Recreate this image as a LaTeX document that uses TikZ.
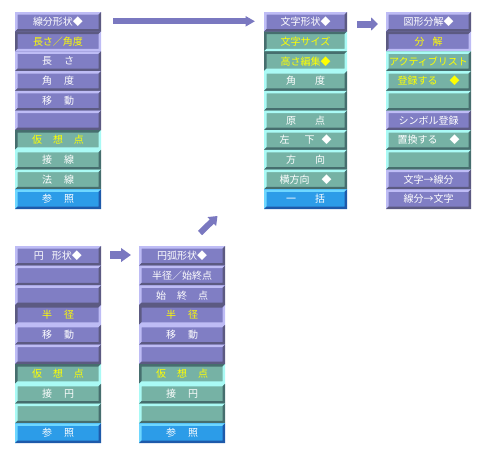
\documentclass[tikz,border=0pt]{standalone}
\usepackage{fontspec}
\newfontfamily\jp{Noto Sans CJK JP}
\usetikzlibrary{arrows.meta}
\definecolor{Pfill}{RGB}{128,126,196}
\definecolor{Plight}{RGB}{190,188,245}
\definecolor{Pdark}{RGB}{92,90,130}
\definecolor{Tfill}{RGB}{118,178,165}
\definecolor{Tlight}{RGB}{170,250,245}
\definecolor{Tdark}{RGB}{70,110,110}
\definecolor{Bfill}{RGB}{44,156,232}
\definecolor{Blight}{RGB}{110,215,255}
\definecolor{Bdark}{RGB}{30,90,170}
\definecolor{arrowc}{RGB}{122,120,192}
\definecolor{ytext}{RGB}{255,255,0}
\newcommand{\panelset}[4]{\def\pxa{#1}\def\pxb{#2}\def\pya{#3}\def\rh{#4}}
\newcommand{\btn}[6]{%
 \pgfmathsetmacro\ya{\pya+(#2-1)*\rh}%
 \pgfmathsetmacro\yb{\ya+\rh}%
 \ifnum#4=1 \def\tlc{#3dark}\def\brc{#3light}\else\def\tlc{#3light}\def\brc{#3dark}\fi
 \fill[#3fill] (\pxa,\ya) rectangle (\pxb,\yb);
 \fill[\tlc] (\pxa,\yb) -- (\pxa,\ya) -- (\pxb,\ya) -- ({\pxb-\bw},{\ya+\bw}) -- ({\pxa+\bw},{\ya+\bw}) -- ({\pxa+\bw},{\yb-\bw}) -- cycle;
 \fill[\brc] (\pxb,\ya) -- (\pxb,\yb) -- (\pxa,\yb) -- ({\pxa+\bw},{\yb-\bw}) -- ({\pxb-\bw},{\yb-\bw}) -- ({\pxb-\bw},{\ya+\bw}) -- cycle;
 \node[lbl,text=#5] (#1) at ({(\pxa+\pxb)/2},{(\ya+\yb)/2}) {#6};
}
\def\bw{2.5}
\begin{document}
\begin{tikzpicture}[x=1pt,y=-1pt,
  lbl/.style={font=\jp\fontsize{10pt}{10pt}\selectfont, inner sep=0pt, minimum width=80pt, minimum height=16pt},
  blockarrow/.style={draw=arrowc, line cap=butt}]
\useasboundingbox (0,0) rectangle (488,455);
% Panel 1
\panelset{15}{101}{12}{19.7}
\btn{p1r1}{1}{P}{0}{white}{線分形状◆}
\btn{p1r2}{2}{P}{1}{ytext}{長さ／角度}
\btn{p1r3}{3}{P}{0}{white}{長\hspace{12pt}さ}
\btn{p1r4}{4}{P}{0}{white}{角\hspace{12pt}度}
\btn{p1r5}{5}{P}{0}{white}{移\hspace{12pt}動}
\btn{p1r6}{6}{P}{0}{white}{}
\btn{p1r7}{7}{T}{1}{ytext}{仮\hspace{11pt}想\hspace{11pt}点}
\btn{p1r8}{8}{T}{0}{white}{接\hspace{12pt}線}
\btn{p1r9}{9}{T}{0}{white}{法\hspace{12pt}線}
\btn{p1r10}{10}{B}{0}{white}{参\hspace{12pt}照}
% Panel 2
\panelset{264}{347}{12}{19.7}
\btn{p2r1}{1}{P}{0}{white}{文字形状◆}
\btn{p2r2}{2}{T}{1}{ytext}{文字サイズ}
\btn{p2r3}{3}{T}{1}{ytext}{高さ編集◆}
\btn{p2r4}{4}{T}{0}{white}{角\hspace{19pt}度}
\btn{p2r5}{5}{T}{0}{white}{}
\btn{p2r6}{6}{T}{0}{white}{原\hspace{19pt}点}
\btn{p2r7}{7}{T}{0}{white}{左\hspace{15pt}下\hspace{7pt}◆}
\btn{p2r8}{8}{T}{0}{white}{方\hspace{19pt}向}
\btn{p2r9}{9}{T}{0}{white}{横方向\hspace{12pt}◆}
\btn{p2r10}{10}{B}{0}{white}{一\hspace{19pt}括}
% Panel 3
\panelset{386}{471}{12}{19.7}
\btn{p3r1}{1}{P}{0}{white}{図形分解◆}
\btn{p3r2}{2}{P}{1}{ytext}{分\hspace{8pt}解}
\btn{p3r3}{3}{T}{0}{ytext}{アクティブリスト}
\btn{p3r4}{4}{T}{0}{ytext}{登録する\hspace{12pt}◆}
\btn{p3r5}{5}{T}{0}{white}{}
\btn{p3r6}{6}{P}{0}{white}{シンボル登録}
\btn{p3r7}{7}{T}{0}{white}{置換する\hspace{12pt}◆}
\btn{p3r8}{8}{T}{0}{white}{}
\btn{p3r9}{9}{P}{0}{white}{文字→線分}
\btn{p3r10}{10}{P}{0}{white}{線分→文字}
% Panel 4
\panelset{15}{101}{246}{19.7}
\btn{p4r1}{1}{P}{0}{white}{円\hspace{8pt}形状◆}
\btn{p4r2}{2}{P}{0}{white}{}
\btn{p4r3}{3}{P}{0}{white}{}
\btn{p4r4}{4}{P}{1}{ytext}{半\hspace{12pt}径}
\btn{p4r5}{5}{P}{0}{white}{移\hspace{12pt}動}
\btn{p4r6}{6}{P}{0}{white}{}
\btn{p4r7}{7}{T}{1}{ytext}{仮\hspace{11pt}想\hspace{11pt}点}
\btn{p4r8}{8}{T}{0}{white}{接\hspace{12pt}円}
\btn{p4r9}{9}{T}{0}{white}{}
\btn{p4r10}{10}{B}{0}{white}{参\hspace{12pt}照}
% Panel 5
\panelset{139}{225}{246}{19.7}
\btn{p5r1}{1}{P}{0}{white}{円弧形状◆}
\btn{p5r2}{2}{P}{0}{white}{半径／始終点}
\btn{p5r3}{3}{P}{0}{white}{始\hspace{11pt}終\hspace{11pt}点}
\btn{p5r4}{4}{P}{1}{ytext}{半\hspace{12pt}径}
\btn{p5r5}{5}{P}{0}{white}{移\hspace{12pt}動}
\btn{p5r6}{6}{P}{0}{white}{}
\btn{p5r7}{7}{T}{1}{ytext}{仮\hspace{11pt}想\hspace{11pt}点}
\btn{p5r8}{8}{T}{0}{white}{接\hspace{12pt}円}
\btn{p5r9}{9}{T}{0}{white}{}
\btn{p5r10}{10}{B}{0}{white}{参\hspace{12pt}照}
% Arrows
\coordinate (a1s) at (113,21.3);
\coordinate (a1e) at (255,21.3);
\draw[blockarrow, line width=6pt, -{Triangle[length=9.5pt,width=10pt]}] (a1s) -- (a1e);
\coordinate (a2s) at (357,24);
\coordinate (a2e) at (378,24);
\draw[blockarrow, line width=7pt, -{Triangle[length=7pt,width=13pt]}] (a2s) -- (a2e);
\coordinate (a3s) at (110,255);
\coordinate (a3e) at (131,255);
\draw[blockarrow, line width=8pt, -{Triangle[length=10pt,width=13.5pt]}] (a3s) -- (a3e);
\coordinate (a4s) at (200,233);
\coordinate (a4e) at (217.5,216);
\draw[blockarrow, line width=6pt, -{Triangle[length=8pt,width=12pt]}] (a4s) -- (a4e);
\end{tikzpicture}
\end{document}
